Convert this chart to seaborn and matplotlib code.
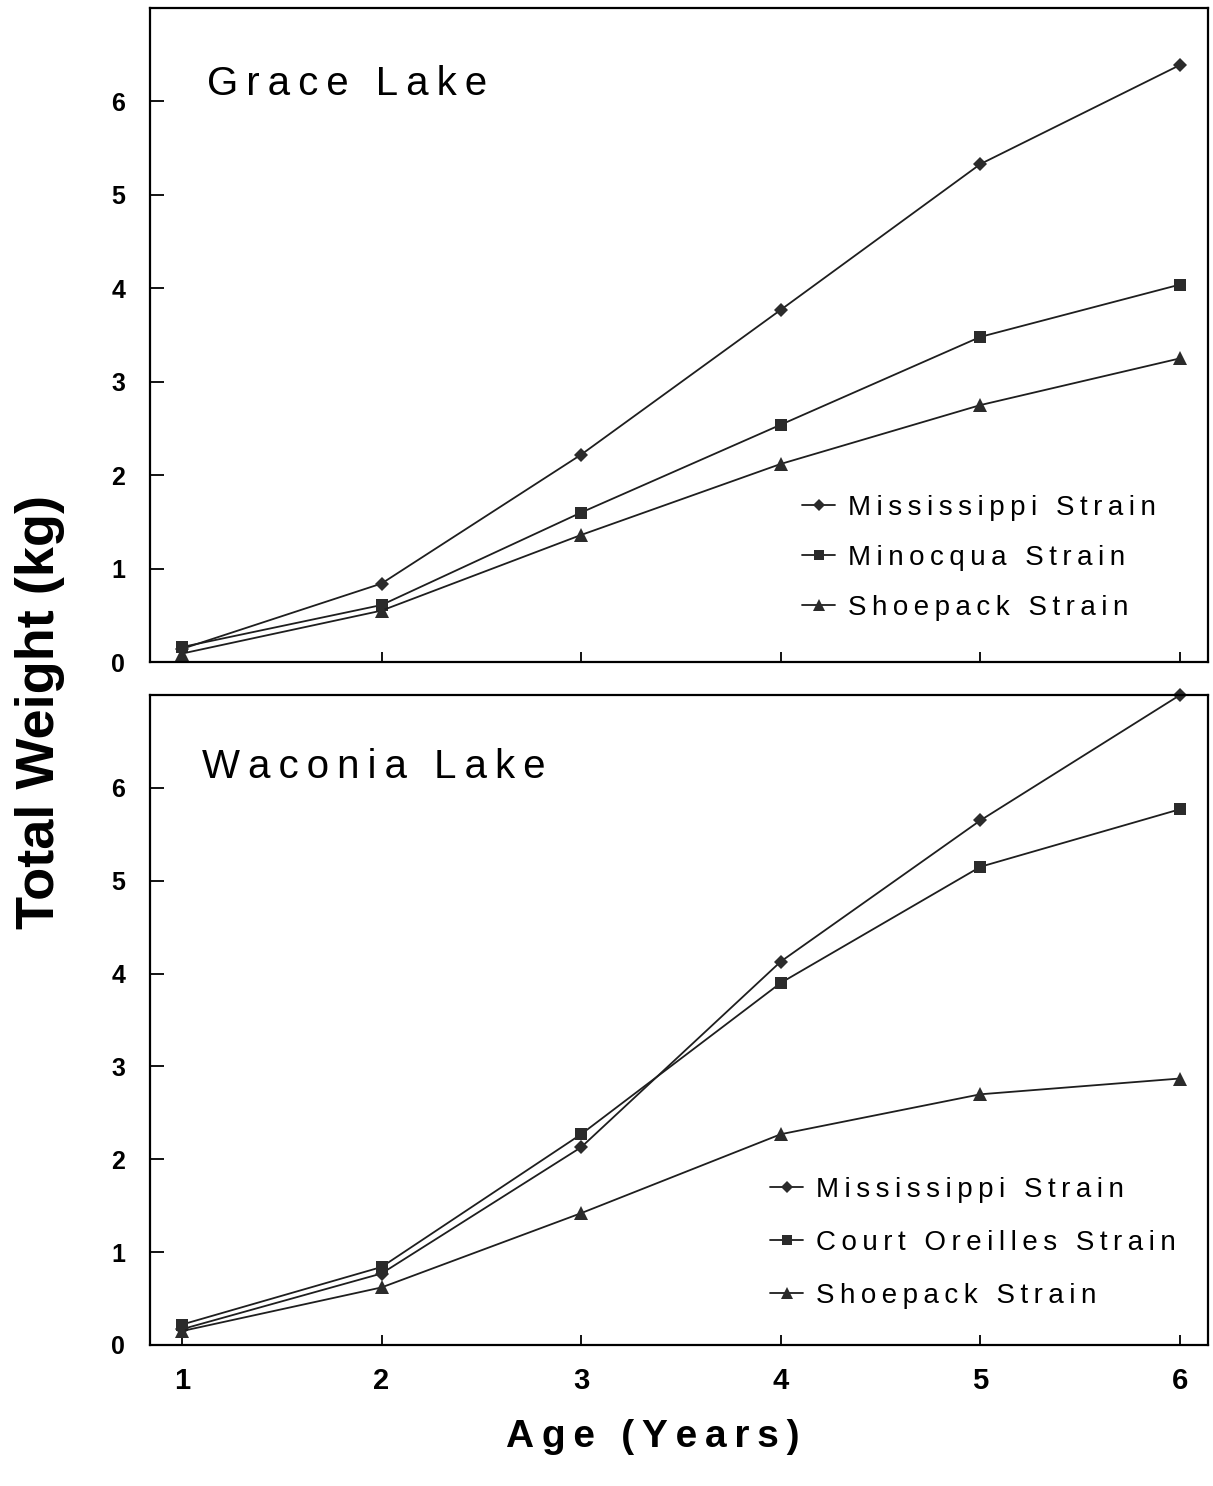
import matplotlib
matplotlib.use("Agg")
import matplotlib.pyplot as plt
import numpy as np
import pandas as pd
import seaborn as sns

# ---------------- data ----------------
ages = [1, 2, 3, 4, 5, 6]

grace_title = "Grace Lake"
grace_strains = ["Mississippi Strain", "Minocqua Strain", "Shoepack Strain"]
grace_mississippi = [0.14, 0.84, 2.22, 3.77, 5.33, 6.39]
grace_minocqua = [0.16, 0.61, 1.60, 2.54, 3.48, 4.04]
grace_shoepack = [0.09, 0.55, 1.36, 2.12, 2.75, 3.25]

waconia_title = "Waconia Lake"
waconia_strains = ["Mississippi Strain", "Court Oreilles Strain", "Shoepack Strain"]
waconia_mississippi = [0.17, 0.77, 2.13, 4.13, 5.65, 7.00]
waconia_court = [0.22, 0.84, 2.27, 3.90, 5.15, 5.77]
waconia_shoepack = [0.15, 0.62, 1.42, 2.27, 2.70, 2.87]

x_ticks = [1, 2, 3, 4, 5, 6]
y_ticks = [0, 1, 2, 3, 4, 5, 6]
y_label = "Total Weight (kg)"
x_label = "Age (Years)"

marker_map = {
    "Mississippi Strain": "D",
    "Minocqua Strain": "s",
    "Court Oreilles Strain": "s",
    "Shoepack Strain": "^",
}
marker_size = {"D": 7.0, "s": 9.0, "^": 9.5}


def long_frame(strains, series):
    rows = []
    for strain, vals in zip(strains, series):
        for a, v in zip(ages, vals):
            rows.append({"Age": a, "Weight": v, "Strain": strain})
    return pd.DataFrame(rows)


grace_df = long_frame(grace_strains, [grace_mississippi, grace_minocqua, grace_shoepack])
waconia_df = long_frame(waconia_strains, [waconia_mississippi, waconia_court, waconia_shoepack])

# ---------------- style ----------------
sns.set_theme(style="white")
plt.rcParams["font.family"] = ["Liberation Sans", "DejaVu Sans"]
plt.rcParams["axes.edgecolor"] = "black"
plt.rcParams["axes.linewidth"] = 1.6

INK = "#1e1e1e"
W, H = 1213, 1486
fig = plt.figure(figsize=(W / 100, H / 100), dpi=100)


def track(s):
    # letter-spaced rendering with thin spaces
    return "\u2009".join(s)


def px_axes(left, top, right, bottom):
    return fig.add_axes([left / W, 1 - bottom / H, (right - left) / W, (bottom - top) / H])


ax_top = px_axes(150, 8, 1208, 662)
ax_bot = px_axes(150, 695, 1208, 1345)


def draw_panel(ax, df, strains, title, title_xy, leg_anchor, leg_spacing, show_xlabels):
    sns.lineplot(
        data=df, x="Age", y="Weight", hue="Strain", style="Strain",
        hue_order=strains, style_order=strains,
        markers={s: marker_map[s] for s in strains}, dashes=False,
        palette=[INK] * len(strains), errorbar=None, legend=False,
        linewidth=1.3, markeredgewidth=0, ax=ax,
    )
    for ln in ax.lines:
        ln.set_markersize(marker_size[ln.get_marker()])
        ln.set_clip_on(False)
        ln.set_markerfacecolor("#2b2b2b")

    ax.set_xlim(0.84, 6.14)
    ax.set_ylim(0, 7)
    ax.set_xticks(x_ticks)
    ax.set_yticks(y_ticks)
    ax.set_xlabel("")
    ax.set_ylabel("")
    for sp in ax.spines.values():
        sp.set_visible(True)
        sp.set_color("black")
        sp.set_linewidth(1.6)
    ax.tick_params(axis="y", direction="in", length=10, width=1.3, color="black",
                   labelsize=18, pad=18, left=True, right=False)
    ax.tick_params(axis="x", direction="in", length=7, width=1.3, color="black",
                   labelsize=21, pad=16, bottom=True, top=False,
                   labelbottom=show_xlabels)
    for lab in ax.get_xticklabels() + ax.get_yticklabels():
        lab.set_fontweight("bold")
        lab.set_color("black")

    ax.text(title_xy[0], title_xy[1], track(title), transform=ax.transAxes,
            fontsize=29, ha="left", va="baseline", color="black")

    leg = ax.legend(ax.lines[:len(strains)], [track(s) for s in strains],
                    loc="upper left", bbox_to_anchor=leg_anchor, frameon=False,
                    fontsize=20, handlelength=1.2, handletextpad=0.45,
                    labelspacing=leg_spacing, borderpad=0, borderaxespad=0,
                    markerscale=0.85)
    for t in leg.get_texts():
        t.set_color("black")


draw_panel(ax_top, grace_df, grace_strains, grace_title,
           ((207 - 150) / 1058, (662 - 95) / 654),
           ((802 - 150) / 1058, (662 - 495) / 654), 0.86, False)
draw_panel(ax_bot, waconia_df, waconia_strains, waconia_title,
           ((202 - 150) / 1058, (1345 - 778) / 650),
           ((770 - 150) / 1058, (1345 - 1177) / 650), 0.97, True)

fig.text(40 / W, 1 - 712 / H, y_label, rotation=90, fontsize=39, fontweight="bold",
         ha="center", va="center", color="black")
fig.text(653 / W, 1 - 1447 / H, track(x_label), fontsize=28, fontweight="bold",
         ha="center", va="baseline", color="black")

fig.savefig("out.png", dpi=100, facecolor="white")
